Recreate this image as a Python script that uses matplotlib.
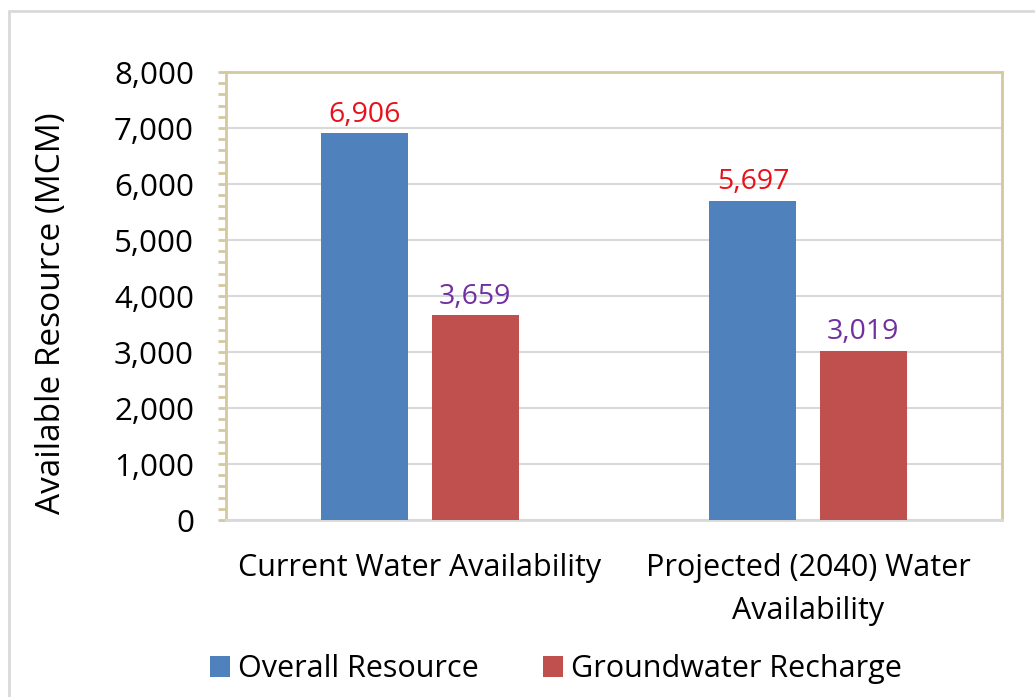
import matplotlib
matplotlib.use("Agg")
import matplotlib.pyplot as plt
from matplotlib.patches import Rectangle, Patch
from matplotlib.ticker import MultipleLocator, FuncFormatter
import numpy as np

categories = ["Current Water Availability", "Projected (2040) Water\nAvailability"]
overall = [6906, 5697]
recharge = [3659, 3019]
series_names = ["Overall Resource", "Groundwater Recharge"]
y_label = "Available Resource (MCM)"

plt.rcParams['font.family'] = ['Open Sans', 'DejaVu Sans']

W, H = 1035, 697
fig = plt.figure(figsize=(W / 100, H / 100), dpi=100)
fig.patch.set_facecolor('white')

# outer chart border
fig.patches.append(Rectangle((8.5 / W, -0.1), 1.2, (H - 10.5) / H + 0.1,
                             transform=fig.transFigure, fill=False,
                             edgecolor='#D9D9D9', linewidth=2, zorder=0))

left, right, top, bottom = 226, 1002, 72, 520
ax = fig.add_axes([left / W, 1 - bottom / H, (right - left) / W, (bottom - top) / H])

x = np.arange(len(categories))
bw = 0.224
off = 0.142
b1 = ax.bar(x - off, overall, bw, color='#4F81BD', zorder=3, label=series_names[0])
b2 = ax.bar(x + off, recharge, bw, color='#C0504D', zorder=3, label=series_names[1])

fmt = lambda v: f"{v:,.0f}"
for r, v in zip(b1, overall):
    ax.text(r.get_x() + r.get_width() / 2, v + 80, fmt(v), ha='center', va='bottom',
            color='#E8101A', fontsize=20.5)
for r, v in zip(b2, recharge):
    ax.text(r.get_x() + r.get_width() / 2, v + 80, fmt(v), ha='center', va='bottom',
            color='#7030A0', fontsize=20.5)

ax.set_xlim(-0.5, 1.5)
ax.set_ylim(0, 8000)
ax.yaxis.set_major_locator(MultipleLocator(1000))
ax.yaxis.set_minor_locator(MultipleLocator(200))
ax.yaxis.set_major_formatter(FuncFormatter(lambda v, p: f"{v:,.0f}"))
ax.grid(axis='y', which='major', color='#D9D9D9', linewidth=1.5, zorder=0)

ax.set_xticks(x)
ax.set_xticklabels(categories, fontsize=22, linespacing=1.55)
ax.tick_params(axis='x', length=0, pad=24)
ax.tick_params(axis='y', which='both', direction='out', length=6, width=2,
               color='#D4C99E', labelsize=22.5, pad=17)

for s in ['left', 'right', 'top']:
    ax.spines[s].set_color('#D4C99E')
    ax.spines[s].set_linewidth(2)
ax.spines['bottom'].set_color('#D9D9D9')
ax.spines['bottom'].set_linewidth(2)

fig.text(52 / W, 1 - 313 / H, y_label, rotation=90, ha='center', va='center',
         fontsize=24)

handles = [Patch(facecolor='#4F81BD'), Patch(facecolor='#C0504D')]
fig.legend(handles, series_names, loc='center', bbox_to_anchor=(556 / W, 1 - 669 / H),
           ncol=2, frameon=False, fontsize=22, handlelength=0.66, handleheight=0.66,
           handletextpad=0.25, columnspacing=2.1, borderpad=0)

fig.savefig("out.png", dpi=100)
